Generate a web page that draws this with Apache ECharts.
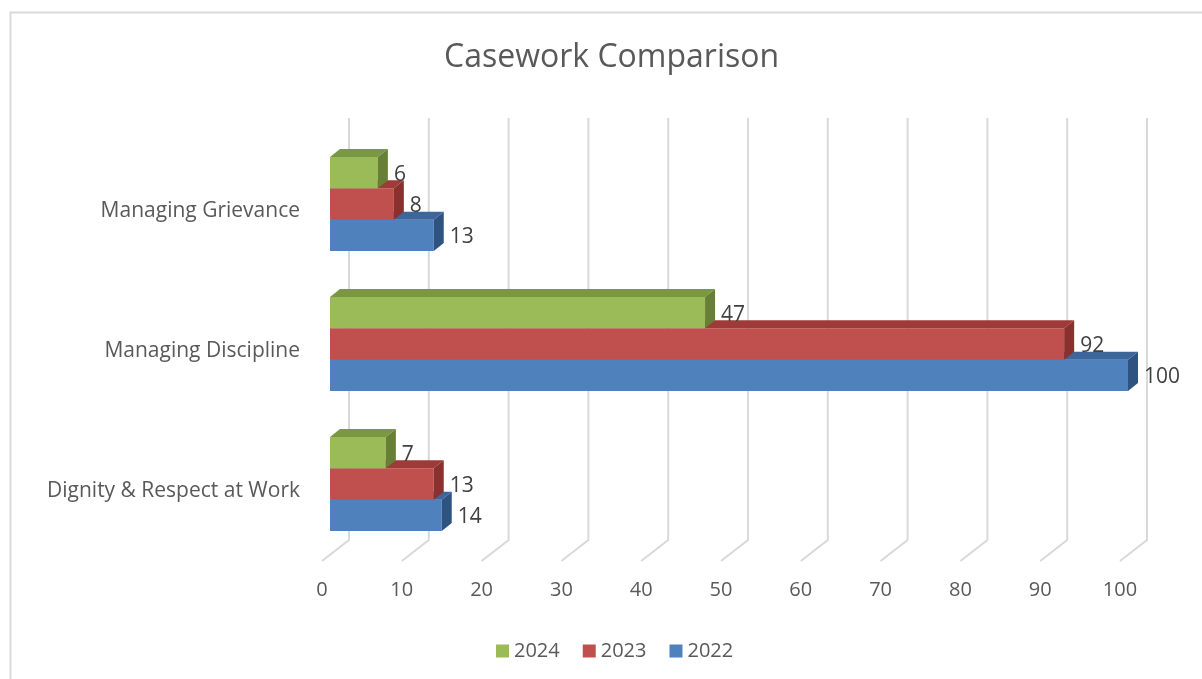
<!DOCTYPE html>
<html>
<head>
<meta charset="utf-8">
<title>Casework Comparison</title>
<script src="https://cdn.jsdelivr.net/npm/echarts@6/dist/echarts.min.js"></script>
<style>
  html, body { margin: 0; padding: 0; background: #ffffff; }
  #chart { width: 1202px; height: 679px; }
</style>
</head>
<body>
<div id="chart"></div>
<script>
// Categories run bottom to top on the value-bar chart
const categories = ['Dignity & Respect at Work', 'Managing Discipline', 'Managing Grievance'];
const years = ['2022', '2023', '2024'];
const values2022 = [14, 100, 13];
const values2023 = [13, 92, 8];
const values2024 = [7, 47, 6];
const xTicks = [0, 10, 20, 30, 40, 50, 60, 70, 80, 90, 100];

const FONT = '"Open Sans", "Noto Sans", sans-serif';
const TEXT = '#595959';
const GRID_LINE = '#D9D9D9';

// depth of the floor/back wall and of each bar (pixels)
const WALL_DX = 27, WALL_DY = -21;
const BAR_FRONT_DX = 8, BAR_FRONT_DY = -7;
const BAR_DX = 10, BAR_DY = -8;

const palette = {
  '2022': { front: '#4F81BD', top: '#3D679B', side: '#2F5381' },
  '2023': { front: '#C0504D', top: '#9E3B39', side: '#8A302E' },
  '2024': { front: '#9BBB59', top: '#7A9843', side: '#687F37' }
};

function wallRenderer(params, api) {
  const cs = params.coordSys;
  const x = api.coord([api.value(0), 0])[0];
  const yFront = cs.y + cs.height;
  return {
    type: 'polyline',
    shape: {
      points: [
        [x, yFront],
        [x + WALL_DX, yFront + WALL_DY],
        [x + WALL_DX, cs.y + WALL_DY - 2]
      ]
    },
    style: { stroke: GRID_LINE, lineWidth: 2, fill: null },
    silent: true
  };
}

function barRenderer(stackPos, colors) {
  return function (params, api) {
    const v = api.value(0);
    const cat = api.value(1);
    const start = api.coord([0, cat]);
    const end = api.coord([v, cat]);
    const band = api.size([0, 1])[1];
    const h = band * 0.224;
    const cy = start[1] + BAR_FRONT_DY;
    const bottom = cy + 1.5 * h - stackPos * h;
    const top = bottom - h;
    const x0 = start[0] + BAR_FRONT_DX;
    const x1 = end[0] + BAR_FRONT_DX;
    return {
      type: 'group',
      children: [
        {
          type: 'rect',
          shape: { x: x0, y: top, width: x1 - x0, height: h },
          style: { fill: colors.front }
        },
        {
          type: 'polygon',
          shape: { points: [[x0, top], [x0 + BAR_DX, top + BAR_DY], [x1 + BAR_DX, top + BAR_DY], [x1, top]] },
          style: { fill: colors.top }
        },
        {
          type: 'polygon',
          shape: { points: [[x1, top], [x1 + BAR_DX, top + BAR_DY], [x1 + BAR_DX, bottom + BAR_DY], [x1, bottom]] },
          style: { fill: colors.side }
        },
        {
          type: 'text',
          z2: 100,
          style: {
            text: String(v),
            x: x1 + BAR_DX + 6,
            y: (top + bottom) / 2 + 2,
            verticalAlign: 'middle',
            align: 'left',
            fill: '#404040',
            font: '21px ' + FONT
          }
        }
      ]
    };
  };
}

function barSeries(year, values, stackPos) {
  return {
    name: year,
    type: 'custom',
    coordinateSystem: 'cartesian2d',
    renderItem: barRenderer(stackPos, palette[year]),
    itemStyle: { color: palette[year].front },
    encode: { x: 0, y: 1 },
    data: values.map((v, i) => [v, i]),
    z: 3
  };
}

const chart = echarts.init(document.getElementById('chart'), null, { renderer: 'canvas' });

chart.setOption({
  backgroundColor: '#ffffff',
  animation: false,
  title: {
    text: 'Casework Comparison',
    left: 439,
    top: 37,
    textStyle: { fontFamily: FONT, fontSize: 32, fontWeight: 'normal', color: TEXT }
  },
  graphic: [
    {
      type: 'rect',
      shape: { x: 10.5, y: 12.5, width: 1400, height: 900 },
      style: { fill: null, stroke: GRID_LINE, lineWidth: 2 },
      silent: true,
      z: -10
    }
  ],
  legend: {
    data: ['2024', '2023', '2022'],
    left: 491,
    top: 636,
    icon: 'rect',
    itemWidth: 13,
    itemHeight: 13,
    itemGap: 23,
    textStyle: { fontFamily: FONT, fontSize: 20, color: TEXT }
  },
  grid: { left: 322, width: 798, top: 141, height: 420, containLabel: false },
  xAxis: {
    type: 'value',
    min: 0,
    max: 100,
    interval: 10,
    axisLine: { show: false },
    axisTick: { show: false },
    splitLine: { show: false },
    axisLabel: { fontFamily: FONT, fontSize: 20, color: TEXT, margin: 19 }
  },
  yAxis: {
    type: 'category',
    data: categories,
    axisLine: { show: false },
    axisTick: { show: false },
    splitLine: { show: false },
    axisLabel: { fontFamily: FONT, fontSize: 21, color: TEXT, margin: 22 }
  },
  series: [
    {
      name: 'walls',
      type: 'custom',
      coordinateSystem: 'cartesian2d',
      renderItem: wallRenderer,
      encode: { x: 0, y: 1 },
      data: xTicks.map(t => [t, 0]),
      silent: true,
      z: 1
    },
    barSeries('2022', values2022, 0),
    barSeries('2023', values2023, 1),
    barSeries('2024', values2024, 2)
  ]
});
</script>
</body>
</html>
